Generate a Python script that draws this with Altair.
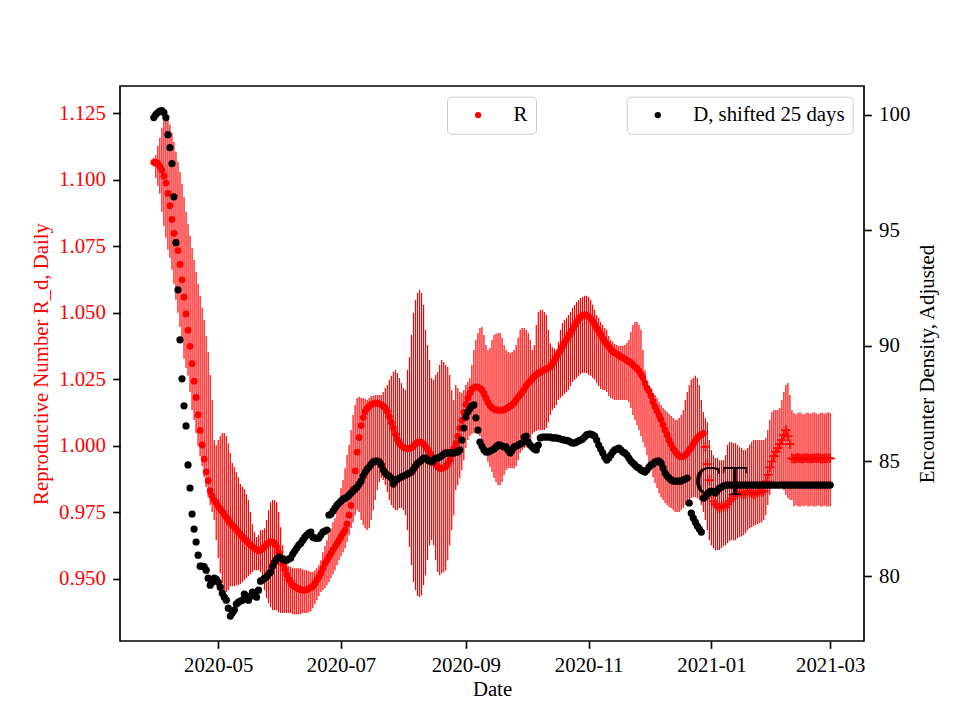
import altair as alt
import pandas as pd

START_DATE = "2020-03-30"

# R (daily reproductive number), circles, days 0..273
R_DOTS = [
    1.1065, 1.1065, 1.106, 1.105, 1.1036, 1.1013, 1.0987, 1.0948, 1.0902, 1.085,
    1.0798, 1.0765, 1.0733, 1.0681, 1.0623, 1.0558, 1.0495, 1.0434, 1.0373, 1.0308,
    1.0242, 1.0181, 1.0116, 1.0057, 1.0002, 0.9949, 0.9901, 0.9868, 0.983, 0.981,
    0.9795, 0.9785, 0.9772, 0.9762, 0.9752, 0.9742, 0.9731, 0.972, 0.971, 0.9701,
    0.9694, 0.9685, 0.9675, 0.9666, 0.9657, 0.965, 0.9642, 0.9634, 0.9627, 0.962,
    0.9614, 0.9609, 0.9604, 0.9606, 0.9612, 0.9619, 0.9627, 0.9634, 0.9638, 0.9638,
    0.9632, 0.962, 0.9598, 0.9575, 0.9555, 0.9535, 0.9515, 0.9498, 0.9485, 0.9475,
    0.9469, 0.9465, 0.9461, 0.9458, 0.9457, 0.9456, 0.9458, 0.9462, 0.9466, 0.947,
    0.9482, 0.9495, 0.9506, 0.952, 0.9538, 0.9557, 0.9569, 0.9582, 0.9594, 0.9607,
    0.9619, 0.9632, 0.9644, 0.9657, 0.967, 0.9682, 0.9705, 0.9738, 0.9775, 0.9835,
    0.9905, 0.9975, 1.003, 1.0075, 1.0105, 1.0128, 1.014, 1.0148, 1.0154, 1.0158,
    1.0159, 1.0159, 1.0157, 1.0153, 1.0148, 1.0142, 1.0128, 1.0108, 1.0087, 1.0065,
    1.0042, 1.0022, 1.0008, 1.0, 0.9994, 0.999, 0.9989, 0.9989, 0.9992, 0.9998,
    1.0006, 1.0012, 1.0014, 1.0012, 1.0005, 0.9995, 0.9985, 0.9972, 0.9958, 0.9943,
    0.993, 0.992, 0.9915, 0.9914, 0.9917, 0.9922, 0.9932, 0.9945, 0.9965, 0.9988,
    1.0008, 1.0035, 1.0065, 1.0095, 1.0125, 1.0155, 1.0178, 1.0197, 1.0211, 1.0218,
    1.0221, 1.022, 1.0215, 1.0209, 1.0195, 1.0178, 1.0162, 1.015, 1.0142, 1.0137,
    1.0134, 1.0133, 1.0133, 1.0133, 1.0134, 1.0138, 1.0143, 1.0148, 1.0152, 1.016,
    1.0172, 1.0182, 1.019, 1.02, 1.0212, 1.0224, 1.0234, 1.0243, 1.0251, 1.0259,
    1.0266, 1.0272, 1.0276, 1.028, 1.0284, 1.0288, 1.0291, 1.0297, 1.0306, 1.0318,
    1.0332, 1.0345, 1.0358, 1.0372, 1.0386, 1.0398, 1.041, 1.0422, 1.0436, 1.045,
    1.0464, 1.0475, 1.0483, 1.0489, 1.0491, 1.049, 1.0485, 1.0479, 1.0468, 1.0455,
    1.0442, 1.043, 1.0417, 1.0404, 1.0391, 1.0381, 1.0372, 1.0362, 1.0354, 1.0349,
    1.0344, 1.0339, 1.0334, 1.033, 1.0325, 1.032, 1.0316, 1.0311, 1.0304, 1.0297,
    1.029, 1.0281, 1.0268, 1.0255, 1.0235, 1.0216, 1.0205, 1.0187, 1.0165, 1.0146,
    1.013, 1.0113, 1.0097, 1.0078, 1.0058, 1.004, 1.002, 1.0003, 0.9988, 0.9978,
    0.9968, 0.996, 0.9958, 0.996, 0.9964, 0.9972, 0.9983, 0.9993, 1.0005, 1.0017,
    1.0028, 1.0036, 1.0042, 1.0046,
]

# R, later days drawn as '+' markers, days 274..336
R_PLUS = [
    0.9995, 0.993, 0.987, 0.982, 0.979, 0.978, 0.977, 0.9765, 0.977, 0.9775,
    0.9768, 0.978, 0.979, 0.98, 0.981, 0.9815, 0.982, 0.9825, 0.982, 0.9815,
    0.982, 0.983, 0.9825, 0.982, 0.9815, 0.982, 0.9825, 0.983, 0.9825, 0.983,
    0.9865, 0.989, 0.9918, 0.994, 0.996, 0.9977, 0.999, 1.0005, 1.002, 1.004,
    1.0058, 1.0035, 1.0005,
    0.9952, 0.995, 0.9952, 0.9954, 0.9952, 0.995, 0.9952, 0.9953, 0.9952, 0.995,
    0.9951, 0.9952, 0.9952, 0.9953, 0.9952, 0.995, 0.9951, 0.9952, 0.9952, 0.9952,
]

# error bar bounds of R, days 0..336
R_HI = [
    1.1082, 1.1093, 1.1127, 1.1157, 1.1195, 1.1221, 1.1229, 1.1225, 1.1206, 1.1176,
    1.1142, 1.1105, 1.1067, 1.1029, 1.0984, 1.0935, 1.0879, 1.0834, 1.0789, 1.0743,
    1.0698, 1.0653, 1.0608, 1.0563, 1.0518, 1.0472, 1.0412, 1.0352, 1.0265, 1.0171,
    1.0021, 1.0002, 1.0021, 1.0036, 1.0047, 1.0047, 1.0036, 1.0009, 0.9972, 0.9934,
    0.9919, 0.99, 0.9881, 0.9855, 0.9844, 0.9836, 0.9817, 0.9795, 0.975, 0.9704,
    0.9674, 0.9656, 0.9663, 0.9682, 0.9682, 0.9689, 0.972, 0.9757, 0.9787, 0.9795,
    0.9795, 0.9787, 0.975, 0.9693, 0.9625, 0.9588, 0.9561, 0.9546, 0.9543, 0.9539,
    0.9539, 0.9539, 0.9539, 0.9539, 0.9535, 0.9531, 0.9531, 0.9528, 0.9524, 0.9524,
    0.9531, 0.9539, 0.955, 0.9569, 0.9599, 0.9622, 0.9644, 0.9667, 0.9689, 0.9712,
    0.9727, 0.9757, 0.9802, 0.984, 0.987, 0.9915, 0.9964, 1.0002, 1.0058, 1.0115,
    1.0152, 1.0179, 1.0183, 1.0179, 1.0179, 1.0175, 1.0171, 1.0179, 1.0186, 1.0186,
    1.019, 1.019, 1.019, 1.019, 1.0201, 1.0216, 1.0228, 1.0247, 1.0262, 1.0277,
    1.0284, 1.0273, 1.0254, 1.0235, 1.0216, 1.0209, 1.0284, 1.0333, 1.0416, 1.0499,
    1.0548, 1.0574, 1.0585, 1.0574, 1.0529, 1.0435, 1.0378, 1.0322, 1.0254, 1.0247,
    1.0265, 1.0277, 1.0303, 1.0322, 1.0314, 1.0303, 1.0295, 1.0265, 1.0209, 1.0171,
    1.0228, 1.0216, 1.0201, 1.0198, 1.0209, 1.0228, 1.0239, 1.0254, 1.0303, 1.0359,
    1.0397, 1.0423, 1.0442, 1.0446, 1.0416, 1.0378, 1.0359, 1.0367, 1.0397, 1.0416,
    1.042, 1.0423, 1.0423, 1.0405, 1.0378, 1.0359, 1.0352, 1.0348, 1.0352, 1.0359,
    1.0378, 1.0405, 1.0435, 1.0442, 1.0442, 1.0435, 1.0423, 1.0397, 1.0359, 1.0378,
    1.0454, 1.0502, 1.051, 1.051, 1.0502, 1.0491, 1.0435, 1.0385, 1.037, 1.0365,
    1.036, 1.039, 1.0435, 1.0461, 1.0472, 1.048, 1.0491, 1.0502, 1.0518, 1.0529,
    1.054, 1.0548, 1.0555, 1.0559, 1.0563, 1.0563, 1.0559, 1.0548, 1.0529, 1.051,
    1.0491, 1.048, 1.0465, 1.0454, 1.0442, 1.0435, 1.0412, 1.0397, 1.039, 1.0382,
    1.0378, 1.0375, 1.0375, 1.0375, 1.0378, 1.0386, 1.0397, 1.0427, 1.0454, 1.0465,
    1.0465, 1.0454, 1.0435, 1.0359, 1.0284, 1.0228, 1.0209, 1.0201, 1.0198, 1.019,
    1.0179, 1.0164, 1.0152, 1.0141, 1.0134, 1.0126, 1.0119, 1.0111, 1.0104, 1.0096,
    1.0096, 1.0104, 1.0115, 1.0134, 1.0171, 1.0201, 1.0228, 1.0247, 1.0254, 1.0262,
    1.0254, 1.0228, 1.0171, 1.0126, 1.0104, 1.0088, 1.0021, 0.9983, 0.9964, 0.9953,
    0.9953, 0.9945, 0.9945, 0.9945, 0.9964, 1.0002, 1.0013, 1.0013, 1.0009, 1.0009,
    1.0002, 0.9994, 0.9991, 0.9983, 0.9983, 0.9991, 1.0002, 1.0013, 1.0021, 1.0021,
    1.0021, 1.0021, 1.0021, 1.0021, 1.0028, 1.0058, 1.0096, 1.0126, 1.0134, 1.0134,
    1.0134, 1.0141, 1.0171, 1.0201, 1.0228, 1.0235, 1.019, 1.0134, 1.0122, 1.0118,
    1.0122, 1.0125, 1.012, 1.0118, 1.0122, 1.0124, 1.012, 1.0122, 1.0125, 1.0121,
    1.0118, 1.0122, 1.0124, 1.012, 1.0122, 1.0125, 1.0122,
]

R_LO = [
    1.1048, 1.1006, 1.0977, 1.0947, 1.0879, 1.0826, 1.0781, 1.0736, 1.0706, 1.0661,
    1.0608, 1.0548, 1.0499, 1.0446, 1.039, 1.0326, 1.0292, 1.0262, 1.0201, 1.0134,
    1.0096, 1.0047, 0.9998, 0.996, 0.9923, 0.9881, 0.9844, 0.9806, 0.9776, 0.975,
    0.972, 0.9644, 0.9577, 0.952, 0.9482, 0.9456, 0.9449, 0.9456, 0.9471, 0.9471,
    0.9471, 0.9475, 0.9475, 0.9479, 0.9486, 0.9494, 0.9501, 0.9509, 0.9516, 0.9524,
    0.9531, 0.9531, 0.9531, 0.9524, 0.9494, 0.9456, 0.9426, 0.9407, 0.9392, 0.9381,
    0.9381, 0.9381, 0.9373, 0.937, 0.937, 0.937, 0.937, 0.937, 0.937, 0.9366,
    0.9366, 0.9366, 0.9366, 0.9366, 0.937, 0.937, 0.937, 0.9373, 0.9377, 0.9388,
    0.9403, 0.9418, 0.9433, 0.9449, 0.9456, 0.9464, 0.9475, 0.9486, 0.9501, 0.9516,
    0.9531, 0.955, 0.9569, 0.9584, 0.9599, 0.9614, 0.9637, 0.9663, 0.9689, 0.9712,
    0.9738, 0.9757, 0.975, 0.972, 0.9701, 0.9689, 0.9682, 0.9689, 0.972, 0.9757,
    0.9795, 0.9833, 0.9863, 0.9878, 0.987, 0.9851, 0.9825, 0.9795, 0.9776, 0.9765,
    0.9757, 0.9757, 0.9765, 0.9765, 0.9757, 0.9738, 0.9682, 0.9618, 0.955, 0.9486,
    0.9456, 0.9434, 0.943, 0.9437, 0.9475, 0.9512, 0.9569, 0.9625, 0.9644, 0.9625,
    0.9569, 0.9524, 0.9512, 0.952, 0.9524, 0.9531, 0.9569, 0.9625, 0.9682, 0.9738,
    0.9833, 0.9851, 0.9878, 0.9908, 0.9945, 0.9991, 1.0021, 1.0036, 1.0043, 1.0047,
    1.0047, 1.0043, 1.0036, 1.0021, 0.9991, 0.9964, 0.9938, 0.9919, 0.99, 0.9878,
    0.9863, 0.9851, 0.9851, 0.9863, 0.9889, 0.9908, 0.9915, 0.9915, 0.9915, 0.9915,
    0.9923, 0.9945, 0.9972, 0.9983, 0.9991, 0.9994, 1.0002, 1.0021, 1.0043, 1.0051,
    1.0055, 1.0058, 1.0058, 1.0058, 1.0058, 1.0066, 1.0088, 1.0115, 1.0134, 1.0141,
    1.0152, 1.0171, 1.0179, 1.0186, 1.0194, 1.0201, 1.0209, 1.0224, 1.0239, 1.0247,
    1.0254, 1.0262, 1.0269, 1.0273, 1.0273, 1.0273, 1.0265, 1.0262, 1.0254, 1.0247,
    1.0235, 1.0224, 1.0213, 1.0209, 1.0209, 1.0201, 1.0186, 1.0179, 1.0175, 1.0171,
    1.0171, 1.0171, 1.0171, 1.0171, 1.0171, 1.0171, 1.0164, 1.0141, 1.0115, 1.0096,
    1.0077, 1.0058, 1.0036, 1.0013, 0.9994, 0.9964, 0.9938, 0.9908, 0.9881, 0.9859,
    0.984, 0.9821, 0.9806, 0.9795, 0.9784, 0.9776, 0.9769, 0.9765, 0.9757, 0.975,
    0.975, 0.975, 0.9757, 0.9765, 0.9776, 0.9787, 0.9795, 0.9802, 0.9806, 0.9806,
    0.9802, 0.9795, 0.9776, 0.975, 0.972, 0.9682, 0.9644, 0.9625, 0.9614, 0.9607,
    0.9607, 0.9607, 0.9614, 0.9622, 0.9625, 0.9633, 0.964, 0.9644, 0.9644, 0.9644,
    0.9652, 0.9656, 0.9659, 0.9663, 0.9671, 0.9682, 0.9689, 0.9693, 0.9697, 0.9701,
    0.9705, 0.9708, 0.9712, 0.972, 0.9738, 0.9776, 0.9814, 0.9851, 0.9863, 0.9866,
    0.9866, 0.9863, 0.9851, 0.9833, 0.9814, 0.9802, 0.9795, 0.9795, 0.9772, 0.9775,
    0.9772, 0.977, 0.9774, 0.9772, 0.9775, 0.9771, 0.9772, 0.9774, 0.977, 0.9772,
    0.9775, 0.9772, 0.9771, 0.9774, 0.9772, 0.977, 0.9772,
]

# D (encounter density, shifted 25 days), days 0..336
D_SHIFTED = [
    99.88, 100.01, 100.1, 100.16, 100.18, 100.1, 99.88, 99.14, 98.58, 97.89,
    96.45, 94.46, 92.42, 90.25, 88.56, 87.39, 86.52, 84.83, 83.83, 82.7,
    82.05, 81.49, 80.92, 80.44, 80.44, 80.42, 80.27, 79.92, 79.62, 79.75,
    79.92, 79.88, 79.75, 79.53, 79.27, 79.1, 78.97, 78.62, 78.28, 78.41,
    78.54, 78.8, 78.88, 78.93, 78.97, 79.23, 79.14, 78.97, 79.14, 79.32,
    79.27, 79.1, 79.4, 79.79, 79.84, 79.92, 79.97, 80.1, 80.18, 80.44,
    80.62, 80.75, 80.84, 80.8, 80.75, 80.7, 80.7, 80.75, 80.8, 80.97,
    81.1, 81.23, 81.36, 81.44, 81.57, 81.7, 81.79, 81.88, 81.92, 81.7,
    81.66, 81.66, 81.66, 81.79, 81.92, 81.96, 82.01, 82.66, 82.7, 82.83,
    82.96, 83.09, 83.18, 83.26, 83.35, 83.39, 83.44, 83.52, 83.61, 83.7,
    83.79, 83.87, 84.0, 84.13, 84.35, 84.52, 84.65, 84.74, 84.87, 84.96,
    85.0, 85.0, 84.96, 84.83, 84.61, 84.48, 84.39, 84.35, 84.26, 84.0,
    84.13, 84.22, 84.26, 84.31, 84.35, 84.39, 84.44, 84.48, 84.52, 84.65,
    84.78, 84.91, 84.96, 85.04, 85.13, 85.13, 85.04, 85.0, 84.96, 85.04,
    85.13, 85.13, 85.17, 85.22, 85.3, 85.35, 85.35, 85.35, 85.35, 85.35,
    85.39, 85.39, 85.48, 85.91, 86.43, 86.91, 87.13, 87.26, 87.39, 87.43,
    86.87, 86.34, 85.82, 85.65, 85.48, 85.39, 85.39, 85.43, 85.48, 85.52,
    85.61, 85.69, 85.69, 85.65, 85.61, 85.61, 85.48, 85.35, 85.48, 85.61,
    85.65, 85.69, 85.74, 85.78, 86.04, 86.08, 85.82, 85.69, 85.61, 85.52,
    85.48, 85.69, 86.0, 86.04, 86.04, 86.04, 86.04, 86.04, 86.0, 86.0,
    86.0, 85.98, 85.95, 85.93, 85.91, 85.89, 85.87, 85.82, 85.78, 85.78,
    85.82, 85.87, 85.91, 85.95, 86.04, 86.13, 86.17, 86.17, 86.13, 86.08,
    85.91, 85.69, 85.52, 85.35, 85.17, 85.04, 85.13, 85.26, 85.39, 85.48,
    85.52, 85.56, 85.48, 85.39, 85.35, 85.26, 85.13, 85.0, 84.91, 84.83,
    84.74, 84.7, 84.61, 84.57, 84.52, 84.61, 84.74, 84.83, 84.87, 84.96,
    85.0, 85.0, 84.91, 84.7, 84.48, 84.35, 84.26, 84.18, 84.13, 84.13,
    84.13, 84.13, 84.13, 84.18, 84.22, 84.26, 83.18, 82.74, 82.53, 82.35,
    82.18, 82.05, 81.92, 83.39, 83.44, 83.57, 83.66, 83.7, 83.66, 83.61,
    83.74, 83.83, 83.87, 83.92,
    83.96, 83.96, 83.96, 83.96, 83.96, 83.96, 83.96, 83.96, 83.96, 83.96,
    83.96, 83.96, 83.96, 83.96, 83.96, 83.96, 83.96, 83.96, 83.96, 83.96,
    83.96, 83.96, 83.96, 83.96, 83.96, 83.96, 83.96, 83.96, 83.96, 83.96,
    83.96, 83.96, 83.96, 83.96, 83.96, 83.96, 83.96, 83.96, 83.96, 83.96,
    83.96, 83.96, 83.96, 83.96, 83.96, 83.96, 83.96, 83.96, 83.96, 83.96,
    83.96, 83.96, 83.96,
]

X_TICKS = [(2020, 5), (2020, 7), (2020, 9), (2020, 11), (2021, 1), (2021, 3)]
LEFT_TICKS = [0.950, 0.975, 1.000, 1.025, 1.050, 1.075, 1.100, 1.125]
RIGHT_TICKS = [80, 85, 90, 95, 100]
CT_LABEL = {"date": "2020-12-23T12:00:00Z", "value": 0.9815, "text": "CT"}

FONT = "Liberation Serif"
FS = 20.8

n = min(len(R_LO), len(R_HI), len(D_SHIFTED), len(R_DOTS) + len(R_PLUS))
dates = pd.date_range(START_DATE, periods=n, freq="D").strftime("%Y-%m-%d").tolist()
nd = len(R_DOTS)

df_err = pd.DataFrame({"date": dates, "lo": R_LO[:n], "hi": R_HI[:n]})
df_dot = pd.DataFrame({"date": dates[:nd], "R": R_DOTS, "series": "R"})
df_plus = pd.DataFrame({"date": dates[nd:n], "R": R_PLUS[: n - nd]})
df_d = pd.DataFrame({"date": dates, "D": D_SHIFTED[:n], "series": "D, shifted 25 days"})
df_ct = pd.DataFrame([CT_LABEL])

x_scale = alt.Scale(
    type="utc",
    domain=[
        alt.DateTime(year=2020, month=3, date=13, hours=4, minutes=48, utc=True),
        alt.DateTime(year=2021, month=3, date=17, hours=19, minutes=12, utc=True),
    ],
)
x_axis = alt.Axis(
    title="Date",
    values=[alt.DateTime(year=y, month=m, date=1, utc=True) for y, m in X_TICKS],
    labelExpr="utcFormat(datum.value, '%Y-%m')",
    titlePadding=4,
)
x_enc = alt.X("date:T", scale=x_scale, axis=x_axis)

yl_scale = alt.Scale(domain=[0.9265, 1.1352], nice=False, zero=False)
yl_axis = alt.Axis(
    orient="left",
    title="Reproductive Number R_d, Daily",
    values=LEFT_TICKS,
    format=".3f",
    labelColor="red",
    titleColor="red",
    titlePadding=7,
)
yr_scale = alt.Scale(domain=[77.2, 101.25], nice=False, zero=False)
yr_axis = alt.Axis(
    orient="right",
    title="Encounter Density, Adjusted",
    values=RIGHT_TICKS,
    titleAngle=270,
    titleBaseline="top",
    titlePadding=8,
)

def make_legend(x):
    return alt.Legend(
        title=None, orient="none", legendX=x, legendY=10.7,
        fillColor="white", strokeColor="#cccccc", cornerRadius=4, padding=8,
        labelFont=FONT, labelFontSize=FS, labelColor="black", labelLimit=400,
        symbolType="circle", symbolSize=40, symbolStrokeWidth=0,
        symbolOffset=12.7, labelOffset=25,
    )

err = alt.Chart(df_err).mark_rule(color="red", strokeWidth=1.2).encode(
    x=x_enc, y=alt.Y("lo:Q", scale=yl_scale, axis=yl_axis), y2="hi:Q"
)
dots = alt.Chart(df_dot).mark_circle(size=46, opacity=1).encode(
    x=x_enc,
    y=alt.Y("R:Q", scale=yl_scale, axis=yl_axis),
    color=alt.Color("series:N", scale=alt.Scale(domain=["R"], range=["red"]), legend=make_legend(327)),
)
plus = alt.Chart(df_plus).mark_point(
    shape="M-1,0L1,0M0,-1L0,1", size=90, strokeWidth=1.7, color="red", filled=False, opacity=1
).encode(x=x_enc, y=alt.Y("R:Q", scale=yl_scale, axis=yl_axis))
ct = alt.Chart(df_ct).mark_text(
    align="left", baseline="alphabetic", font=FONT, fontSize=41.7, color="black"
).encode(x=x_enc, y=alt.Y("value:Q", scale=yl_scale, axis=yl_axis), text="text:N")

left = alt.layer(err, dots, plus, ct)

black = alt.Chart(df_d).mark_circle(size=52, opacity=1).encode(
    x=x_enc,
    y=alt.Y("D:Q", scale=yr_scale, axis=yr_axis),
    color=alt.Color(
        "series:N",
        scale=alt.Scale(domain=["D, shifted 25 days"], range=["black"]),
        legend=make_legend(506.7),
    ),
)

chart = (
    alt.layer(left, black)
    .resolve_scale(y="independent", color="independent")
    .properties(
        width=744,
        height=555,
        autosize=alt.AutoSizeParams(type="none"),
        padding={"left": 112, "top": 78, "right": 88, "bottom": 71},
        background="white",
    )
    .configure(font=FONT)
    .configure_axis(
        labelFont=FONT, titleFont=FONT, labelFontSize=FS, titleFontSize=FS,
        titleFontWeight="normal", tickSize=7.3, tickWidth=1.67, tickColor="black",
        labelPadding=7.3, domain=False, grid=False, titleColor="black", labelColor="black",
    )
    .configure_view(stroke="black", strokeWidth=1.67)
)

chart.save("out.html", embed_options={"renderer": "svg", "actions": False})
